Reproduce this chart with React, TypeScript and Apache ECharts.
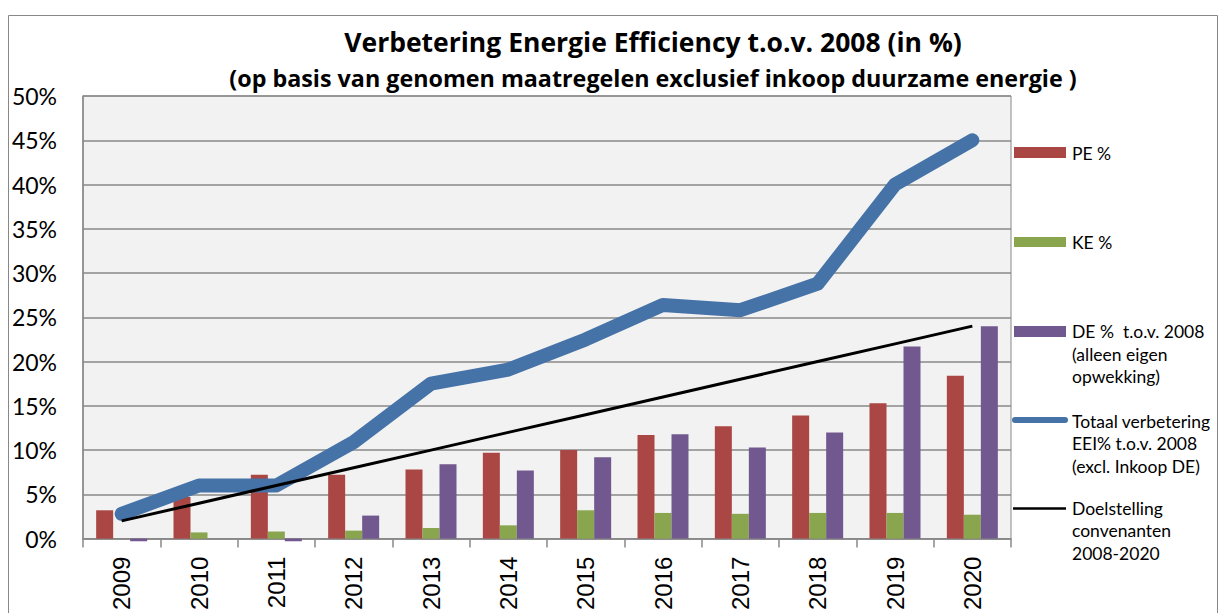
import React, { useEffect, useRef } from "react";
import * as echarts from "echarts";

const years = ["2009", "2010", "2011", "2012", "2013", "2014", "2015", "2016", "2017", "2018", "2019", "2020"];
const pePct = [3.2, 4.7, 7.2, 7.2, 7.8, 9.7, 10.0, 11.7, 12.7, 13.9, 15.3, 18.4];
const kePct = [0, 0.7, 0.8, 0.9, 1.2, 1.5, 3.2, 2.9, 2.8, 2.9, 2.9, 2.7];
const dePct = [-0.3, 0, -0.3, 2.6, 8.4, 7.7, 9.2, 11.8, 10.3, 12.0, 21.7, 24.0];
const totaalPct = [2.8, 6.0, 6.0, 10.9, 17.5, 19.1, 22.5, 26.4, 25.8, 28.8, 40.0, 45.0];
const doelPct = [2, 4, 6, 8, 10, 12, 14, 16, 18, 20, 22, 24];

const titleText = "Verbetering Energie Efficiency t.o.v. 2008 (in %)";
const subtitleText = "(op basis van genomen maatregelen exclusief inkoop duurzame energie )";
const legendPE = "PE %";
const legendKE = "KE %";
const legendDE = "DE %  t.o.v. 2008\n(alleen eigen\nopwekking)";
const legendTotaal = "Totaal verbetering\nEEI% t.o.v. 2008\n(excl. Inkoop DE)";
const legendDoel = "Doelstelling\nconvenanten\n2008-2020";

const C_RED = "#AA4643";
const C_GREEN = "#89A54E";
const C_PURPLE = "#71588F";
const C_BLUE = "#4572A7";
const GRAY = "#888888";
const FONT = "Lato, 'Noto Sans', sans-serif";
const TFONT = "'Open Sans', 'Noto Sans', sans-serif";

export default function App() {
  const ref = useRef<HTMLDivElement>(null);
  useEffect(() => {
    if (!ref.current) return;
    const chart = echarts.init(ref.current, null, { renderer: "svg" });
    const legendText = (x: number, y: number, text: string) => ({
      type: "text",
      x,
      y,
      style: { text, fill: "#000", font: `17.5px ${FONT}`, lineHeight: 22.5, verticalAlign: "top", align: "left" },
    });
    chart.setOption({
      animation: false,
      backgroundColor: "#fff",
      grid: {
        left: 83,
        top: 96,
        width: 928,
        height: 448,
        show: true,
        backgroundColor: "#f2f2f2",
        borderColor: GRAY,
        borderWidth: 1,
      },
      xAxis: {
        type: "category",
        data: years,
        boundaryGap: true,
        axisLine: { show: true, lineStyle: { color: GRAY, width: 1.5 } },
        axisTick: { show: true, length: 9, lineStyle: { color: GRAY, width: 1.5 } },
        axisLabel: {
          rotate: 90,
          fontSize: 24,
          fontFamily: "'Liberation Sans', Arial, sans-serif",
          color: "#000",
          margin: 18,
        },
      },
      yAxis: {
        type: "value",
        min: 0,
        max: 50,
        interval: 5,
        axisLine: { show: true, lineStyle: { color: GRAY, width: 1.5 } },
        axisTick: { show: false },
        splitLine: { show: true, lineStyle: { color: GRAY, width: 1.5 } },
        axisLabel: {
          formatter: "{value}%",
          fontSize: 23,
          fontFamily: FONT,
          color: "#000",
          margin: 26,
        },
      },
      series: [
        { name: "PE %", type: "bar", data: pePct, barWidth: 17, barGap: "0%", itemStyle: { color: C_RED }, clip: false },
        { name: "KE %", type: "bar", data: kePct, barWidth: 17, barGap: "0%", itemStyle: { color: C_GREEN }, clip: false },
        { name: "DE %", type: "bar", data: dePct, barWidth: 17, barGap: "0%", itemStyle: { color: C_PURPLE }, clip: false },
        {
          name: "Totaal",
          type: "line",
          data: totaalPct,
          symbol: "none",
          z: 5,
          lineStyle: { color: C_BLUE, width: 14, cap: "round", join: "round" },
        },
        {
          name: "Doelstelling",
          type: "line",
          data: doelPct,
          symbol: "none",
          z: 6,
          lineStyle: { color: "#000", width: 3 },
        },
      ],
      graphic: [
        {
          type: "rect",
          shape: { x: 8.5, y: 15.5, width: 1209, height: 700 },
          style: { fill: "none", stroke: GRAY, lineWidth: 1 },
          z: -1,
          silent: true,
        },
        {
          type: "text",
          x: 653,
          y: 42,
          style: { text: titleText, fill: "#000", font: `bold 26.5px ${TFONT}`, align: "center", verticalAlign: "middle" },
        },
        {
          type: "text",
          x: 653,
          y: 78,
          style: { text: subtitleText, fill: "#000", font: `bold 23.3px ${TFONT}`, align: "center", verticalAlign: "middle" },
        },
        { type: "rect", shape: { x: 1014, y: 147, width: 52, height: 11 }, style: { fill: C_RED } },
        { type: "text", x: 1072, y: 153, style: { text: legendPE, fill: "#000", font: `17.5px ${FONT}`, verticalAlign: "middle" } },
        { type: "rect", shape: { x: 1014, y: 237, width: 52, height: 10 }, style: { fill: C_GREEN } },
        { type: "text", x: 1072, y: 242, style: { text: legendKE, fill: "#000", font: `17.5px ${FONT}`, verticalAlign: "middle" } },
        { type: "rect", shape: { x: 1014, y: 326, width: 52, height: 11 }, style: { fill: C_PURPLE } },
        legendText(1072, 320.5, legendDE),
        {
          type: "line",
          shape: { x1: 1015, y1: 420, x2: 1065, y2: 420 },
          style: { stroke: C_BLUE, lineWidth: 6, lineCap: "round" },
        },
        legendText(1072, 410, legendTotaal),
        {
          type: "line",
          shape: { x1: 1013, y1: 508.5, x2: 1066, y2: 508.5 },
          style: { stroke: "#000", lineWidth: 2.5 },
        },
        legendText(1072, 497, legendDoel),
      ],
    });
    return () => chart.dispose();
  }, []);
  return <div ref={ref} style={{ position: "fixed", left: 0, top: 0, width: 1221, height: 613 }} />;
}
